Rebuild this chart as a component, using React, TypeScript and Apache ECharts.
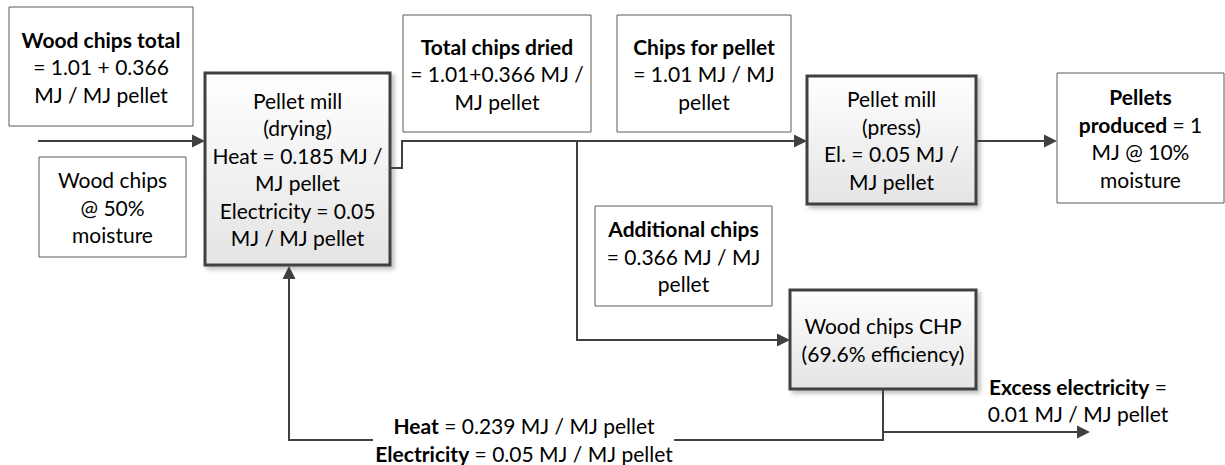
import React, { useEffect, useRef } from "react";
import * as echarts from "echarts";

// ---- Diagram texts ({b|...} = bold run) ----
const woodChipsTotalLines = ["{b|Wood chips total}", "= 1.01 + 0.366", "MJ / MJ pellet"];
const woodChipsMoistureLines = ["Wood chips", "@ 50%", "moisture"];
const dryingMillLines = ["Pellet mill", "(drying)", "Heat = 0.185 MJ /", "MJ pellet", "Electricity = 0.05", "MJ / MJ pellet"];
const totalDriedLines = ["{b|Total chips dried}", "= 1.01+0.366 MJ /", "MJ pellet"];
const chipsForPelletLines = ["{b|Chips for pellet}", "= 1.01 MJ / MJ", "pellet"];
const pressMillLines = ["Pellet mill", "(press)", "El. = 0.05 MJ /", "MJ pellet"];
const pelletsProducedLines = ["{b|Pellets}", "{b|produced} = 1", "MJ @ 10%", "moisture"];
const additionalChipsLines = ["{b|Additional chips}", "= 0.366 MJ / MJ", "pellet"];
const chpLines = ["Wood chips CHP", "(69.6% efficiency)"];
const returnFlowLines = ["{b|Heat} = 0.239 MJ / MJ pellet", "{b|Electricity} = 0.05 MJ / MJ pellet"];
const excessLines = ["{b|Excess electricity} =", "0.01 MJ / MJ pellet"];

// ---- Layout (separate from the texts) ----
const FONT = "Lato";
const FS = 21;
const LH = 27.5;
const LINE = "#404040";

type Box = { x1: number; y1: number; x2: number; y2: number; thick: boolean; lines: string[]; cy?: number };

const boxes: Box[] = [
  { x1: 9, y1: 7, x2: 193, y2: 126, thick: false, lines: woodChipsTotalLines },
  { x1: 39, y1: 157, x2: 186, y2: 257, thick: false, lines: woodChipsMoistureLines },
  { x1: 205, y1: 73, x2: 390, y2: 265, thick: true, lines: dryingMillLines },
  { x1: 403, y1: 15, x2: 591, y2: 132, thick: false, lines: totalDriedLines },
  { x1: 617, y1: 15, x2: 791, y2: 132, thick: false, lines: chipsForPelletLines },
  { x1: 807, y1: 76, x2: 976, y2: 204, thick: true, lines: pressMillLines },
  { x1: 1057, y1: 73, x2: 1224, y2: 203, thick: false, lines: pelletsProducedLines },
  { x1: 595, y1: 206, x2: 772, y2: 306, thick: false, lines: additionalChipsLines },
  { x1: 790, y1: 290, x2: 976, y2: 389, thick: true, lines: chpLines },
];

const rich = { b: { fontWeight: "bold", fontSize: FS, fontFamily: FONT, fill: "#000" } };

function textLines(lines: string[], cx: number, cy: number, z = 10): any[] {
  const n = lines.length;
  return lines.map((t, i) => ({
    type: "text",
    z,
    x: cx,
    y: cy + (i - (n - 1) / 2) * LH,
    style: {
      text: t,
      fill: "#000",
      fontSize: FS,
      fontFamily: FONT,
      align: "center",
      verticalAlign: "middle",
      textAlign: "center",
      textVerticalAlign: "middle",
      rich,
    },
  }));
}

function arrowHead(tipX: number, tipY: number, dir: "right" | "up"): any {
  const L = 13;
  const W = 6.5;
  const pts =
    dir === "right"
      ? [[tipX, tipY], [tipX - L, tipY - W], [tipX - L, tipY + W]]
      : [[tipX, tipY], [tipX - W, tipY + L], [tipX + W, tipY + L]];
  return { type: "polygon", z: 6, shape: { points: pts }, style: { fill: LINE } };
}

function poly(points: number[][]): any {
  return { type: "polyline", z: 5, shape: { points }, style: { stroke: LINE, lineWidth: 2, fill: null } };
}

function buildGraphic(): any[] {
  const g: any[] = [];
  boxes.forEach((b) => {
    g.push({
      type: "rect",
      z: b.thick ? 3 : 2,
      shape: { x: b.x1, y: b.y1, width: b.x2 - b.x1, height: b.y2 - b.y1 },
      style: b.thick
        ? {
            fill: {
              type: "linear", x: 0, y: 0, x2: 0, y2: 1,
              colorStops: [{ offset: 0, color: "#ffffff" }, { offset: 1, color: "#e4e4e4" }],
            },
            stroke: LINE,
            lineWidth: 3,
            shadowBlur: 4,
            shadowOffsetX: 3,
            shadowOffsetY: 3,
            shadowColor: "rgba(0,0,0,0.25)",
          }
        : { fill: "#fff", stroke: "#5a5a5a", lineWidth: 1 },
    });
    const cy = b.cy ?? (b.y1 + b.y2) / 2;
    g.push(...textLines(b.lines, (b.x1 + b.x2) / 2, cy));
  });

  // connectors
  g.push(poly([[38, 141], [198, 141]]), arrowHead(205, 141, "right"));
  g.push(poly([[391, 168], [402, 168], [402, 141], [800, 141]]), arrowHead(807, 141, "right"));
  g.push(poly([[577, 141], [577, 340], [783, 340]]), arrowHead(790, 340, "right"));
  g.push(poly([[976, 141], [1050, 141]]), arrowHead(1057, 141, "right"));
  g.push(poly([[883, 389], [883, 440], [674, 440]]));
  g.push(poly([[373, 440], [289, 440], [289, 272]]), arrowHead(289, 266, "up"));
  g.push(poly([[883, 432], [1083, 432]]), arrowHead(1090, 432, "right"));

  g.push(...textLines(returnFlowLines, 524, 439.5));
  g.push(...textLines(excessLines, 1078, 400));
  return g;
}

export default function App() {
  const ref = useRef<HTMLDivElement>(null);
  useEffect(() => {
    document.body.style.margin = "0";
    if (!ref.current) return;
    const chart = echarts.init(ref.current, null, { renderer: "svg" });
    chart.setOption({
      animation: false,
      backgroundColor: "#ffffff",
      graphic: { elements: buildGraphic() },
    });
    return () => chart.dispose();
  }, []);
  return <div ref={ref} style={{ width: 1225, height: 465 }} />;
}
